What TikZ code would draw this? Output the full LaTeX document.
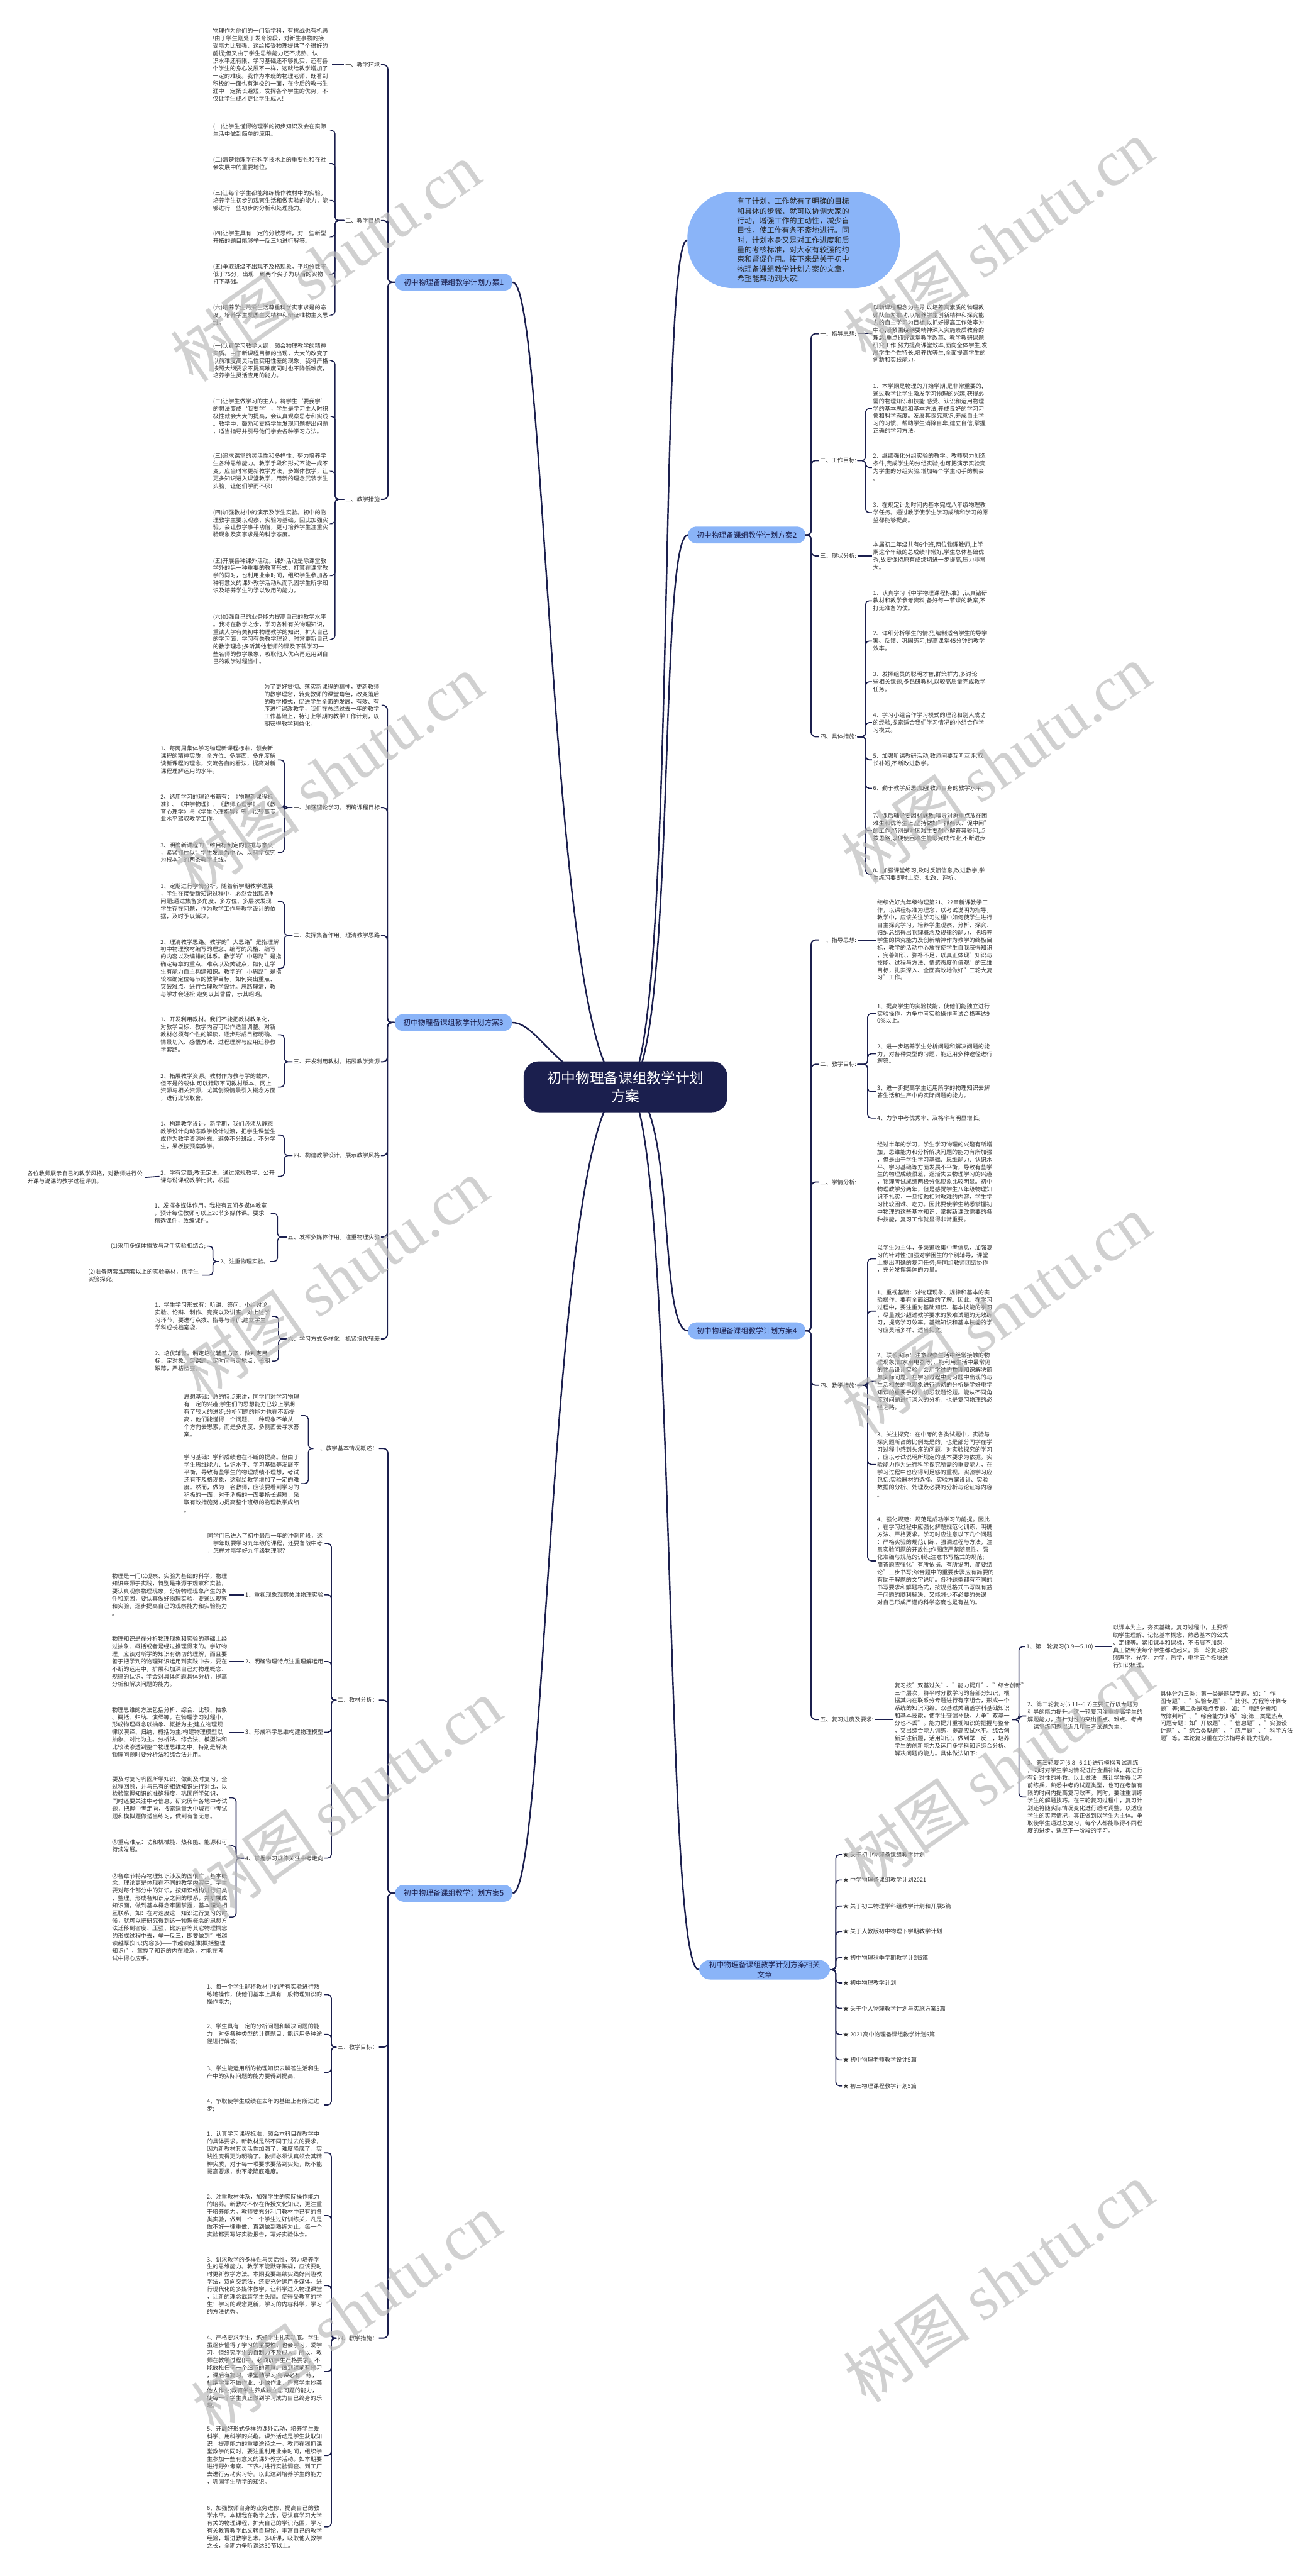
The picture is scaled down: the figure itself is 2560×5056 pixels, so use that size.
\documentclass[tikz,border=0pt]{standalone}
\usepackage{fontspec}
\setmainfont{Noto Sans CJK SC}
\newfontfamily\wmser{Liberation Serif}
\usetikzlibrary{backgrounds}
\definecolor{navy}{HTML}{1B1F4E}
\definecolor{bfill}{HTML}{8AB4F8}
\definecolor{txtc}{HTML}{333333}
\definecolor{wmgray}{HTML}{BDBDBD}
\newcommand\ftxt{\fontsize{11.3pt}{14.75pt}\selectfont}
\newcommand\fbrn{\fontsize{14.5pt}{19pt}\selectfont}
\newcommand\fintr{\fontsize{14.7pt}{18.9pt}\selectfont}
\newcommand\frootn{\fontsize{28pt}{36pt}\selectfont}
\newcommand\fwmk{\fontsize{125pt}{130pt}\selectfont}
\tikzset{
 tb/.style={font=\ftxt, text=txtc, align=left, inner sep=2pt, anchor=north west, text width=#1},
 tb/.default=228pt,
 lbl/.style={font=\ftxt, text=txtc, inner sep=2pt},
 bnode/.style={fill=bfill, text=navy, font=\fbrn, rounded corners=16pt, minimum height=33pt, inner xsep=17pt, inner ysep=3pt},
 rootn/.style={fill=navy, text=white, font=\frootn, align=center, minimum width=400pt, minimum height=100pt, rounded corners=30pt, inner sep=10pt},
 intro/.style={fill=bfill, text=black!85, font=\fintr, align=left, text width=222pt, minimum width=417pt, minimum height=189pt, rounded corners=90pt},
 lk/.style={draw=navy, line width=2pt, rounded corners=7pt},
 mk/.style={draw=navy, line width=2.4pt, rounded corners=9pt},
 rk/.style={draw=navy, line width=3pt},
 wmk/.style={text=wmgray, opacity=0.7, rotate=35, font=\fwmk, inner sep=0pt},
}
\begin{document}
\begin{tikzpicture}[x=1pt,y=-1pt]
\useasboundingbox (0,0) rectangle (2560,5056);
\begin{pgfonlayer}{background}
\fill[white] (0,0) rectangle (2560,5056);
\end{pgfonlayer}

% ---------- root and intro
\node[rootn] (root) at (1228,2133) {初中物理备课组教学计划\\方案};
\node[intro] (intro) at (1558,471) {有了计划，工作就有了明确的目标\\和具体的步骤，就可以协调大家的\\行动，增强工作的主动性，减少盲\\目性，使工作有条不紊地进行。同\\时，计划本身又是对工作进度和质\\量的考核标准，对大家有较强的约\\束和督促作用。接下来是关于初中\\物理备课组教学计划方案的文章，\\希望能帮助到大家!};

% ---------- Branch 1
\node[bnode] (b1) at (891,554) {初中物理备课组教学计划方案1};
\node[lbl, anchor=east] (l1a) at (748,127) {一、教学环境};
\node[lbl, anchor=east] (l1b) at (748,433) {二、教学目标};
\node[lbl, anchor=east] (l1c) at (748,980) {三、教学措施};
\node[tb=232pt, anchor=east] (t1a) at (652,127) {物理作为他们的一门新学科，有挑战也有机遇\\!由于学生刚处于发育阶段，对新生事物的接\\受能力比较强，这给接受物理提供了个很好的\\前提;但又由于学生思维能力还不成熟、认\\识水平还有限、学习基础还不够扎实，还有各\\个学生的身心发展不一样，这就给教学增加了\\一定的难度。我作为本班的物理老师，既看到\\积极的一面也有消极的一面，在今后的教书生\\涯中一定扬长避短，发挥各个学生的优势，不\\仅让学生成才更让学生成人!};
\node[tb=232pt] (t1b1) at (416,241) {(一)让学生懂得物理学的初步知识及会在实际\\生活中做到简单的应用。};
\node[tb=232pt] (t1b2) at (416,306) {(二)清楚物理学在科学技术上的重要性和在社\\会发展中的重要地位。};
\node[tb=232pt] (t1b3) at (416,371) {(三)让每个学生都能熟练操作教材中的实验，\\培养学生初步的观察生活和做实验的能力，能\\够进行一些初步的分析和处理能力。};
\node[tb=232pt] (t1b4) at (416,450) {(四)让学生具有一定的分散思维，对一些新型\\开拓的题目能够举一反三地进行解答。};
\node[tb=232pt] (t1b5) at (416,516) {(五)争取班级不出现不及格现象，平均分数不\\低于75分，出现一到两个尖子为以后的实物\\打下基础。};
\node[tb=232pt] (t1b6) at (416,596) {(六)培养学生热爱生活尊重科学实事求是的态\\度，培养学生爱国主义精神和辩证唯物主义思\\维。};
\node[tb=232pt] (t1c1) at (416,671) {(一)认真学习教学大纲，领会物理教学的精神\\实质。由于新课程目标的出现，大大的改变了\\以前难度高灵活性实用性差的现象，我将严格\\按照大纲要求不提高难度同时也不降低难度，\\培养学生灵活应用的能力。};
\node[tb=232pt] (t1c2) at (416,780) {(二)让学生做学习的主人。将学生‘要我学’\\的想法变成‘我要学’，学生是学习主人时积\\极性就会大大的提高，会认真观察思考和实践\\。教学中，鼓励和支持学生发现问题提出问题\\，适当指导并引导他们学会各种学习方法。};
\node[tb=232pt] (t1c3) at (416,888) {(三)追求课堂的灵活性和多样性，努力培养学\\生各种思维能力。教学手段和形式不能一成不\\变，应当时常更新教学方法，多媒体教学，让\\更多知识进入课堂教学，用新的理念武装学生\\头脑，让他们学而不厌!};
\node[tb=232pt] (t1c4) at (416,998) {(四)加强教材中的演示及学生实验。初中的物\\理教学主要以观察、实验为基础，因此加强实\\验，会让教学事半功倍，更可培养学生注重实\\验现象及实事求是的科学态度。};
\node[tb=232pt] (t1c5) at (416,1093) {(五)开展各种课外活动。课外活动是除课堂教\\学外的另一种重要的教育形式，打算在课堂教\\学的同时，也利用业余时间，组织学生参加各\\种有意义的课外教学活动从而巩固学生所学知\\识及培养学生的学以致用的能力。};
\node[tb=232pt] (t1c6) at (416,1203) {(六)加强自己的业务能力提高自己的教学水平\\。我将在教学之余，学习各种有关物理知识，\\重读大学有关初中物理教学的知识，扩大自己\\的学习面，学习有关教学理论，时常更新自己\\的教学理念;多听其他老师的课及下载学习一\\些名师的教学录象，吸取他人优点再运用到自\\己的教学过程当中。};
\foreach \c in {l1a,l1b,l1c} \draw[mk] (b1.west) -- ++(-14,0) |- (\c.east);
\draw[lk] (l1a.west) -- (t1a.east);
\foreach \i in {1,...,6} \draw[lk] (l1b.west) -- ++(-18,0) |- (t1b\i.east);
\foreach \i in {1,...,6} \draw[lk] (l1c.west) -- ++(-18,0) |- (t1c\i.east);

% ---------- Branch 3
\node[bnode] (b3) at (890,2007) {初中物理备课组教学计划方案3};
\node[tb, anchor=north east] (t3top) at (749,1340) {为了更好贯彻、落实新课程的精神，更新教师\\的教学理念，转变教师的课堂角色，改变落后\\的教学模式，促进学生全面的发展，有效、有\\序进行课改教学，我们在总结过去一年的教学\\工作基础上，特订上学期的教学工作计划，以\\期获得教学利益化。};
\node[lbl, anchor=east] (l3a) at (748,1585) {一、加强理论学习，明确课程目标};
\node[lbl, anchor=east] (l3b) at (748,1836) {二、发挥集备作用，理清教学思路};
\node[lbl, anchor=east] (l3c) at (748,2084) {三、开发利用教材，拓展教学资源};
\node[lbl, anchor=east] (l3d) at (748,2268) {四、构建教学设计，展示教学风格};
\node[lbl, anchor=east] (l3e) at (748,2428) {五、发挥多媒体作用，注重物理实验};
\node[lbl, anchor=east] (l3f) at (748,2628) {六、学习方式多样化，抓紧培优辅差};
\node[tb] (t3a1) at (313,1462) {1、每两周集体学习物理新课程标准，领会新\\课程的精神实质，全方位、多层面、多角度解\\读新课程的理念，交流各自的看法，提高对新\\课程理解运用的水平。};
\node[tb] (t3a2) at (313,1556) {2、选用学习的理论书籍有：《物理新课程标\\准》、《中学物理》、《教师心理学》、《教\\育心理学》与《学生心理指导》等，以较高专\\业水平驾驭教学工作。};
\node[tb] (t3a3) at (313,1651) {3、明确新课程的三维目标制定的根据与意义\\，紧紧抓住以"学生发展为中心、以科学探究\\为根本"的两条教学主线。};
\node[tb] (t3b1) at (313,1732) {1、定期进行学情分析。随着新学期教学进展\\，学生在接受新知识过程中，必然会出现各种\\问题;通过集备多角度、多方位、多层次发现\\学生存在问题，作为教学工作与教学设计的依\\据，及时予以解决。};
\node[tb] (t3b2) at (313,1841) {2、理清教学思路。教学的"大思路"是指理解\\初中物理教材编写的理念、编写的风格、编写\\的内容以及编排的体系。教学的"中思路"是指\\确定每章的重点、难点以及关键点，如何让学\\生有能力自主构建知识。教学的"小思路"是指\\较准确定位每节的教学目标，如何突出重点、\\突破难点，进行合理教学设计。思路理清，教\\与学才会轻松;避免以其昏昏，示其昭昭。};
\node[tb] (t3c1) at (313,1994) {1、开发利用教材。我们不能把教材教条化，\\对教学目标、教学内容可以作适当调整。对新\\教材必须有个性的解读，逐步形成目标明确、\\情景切入、感悟方法、过程理解与应用迁移教\\学套路。};
\node[tb] (t3c2) at (313,2104) {2、拓展教学资源。教材作为教与学的载体，\\但不是的载体;可以猎取不同教材版本、网上\\资源与相关资源，尤其创设情景引入概念方面\\，进行比较取舍。};
\node[tb] (t3d1) at (313,2198) {1、构建教学设计。新学期，我们必须从静态\\教学设计向动态教学设计过渡，把学生课堂生\\成作为教学资源补充，避免不分班级，不分学\\生，呆板按预案教学。};
\node[tb] (t3d2) at (313,2294) {2、学有定章;教无定法。通过常规教学、公开\\课与说课或教学比武，根据};
\node[tb, anchor=east] (t3dx) at (284,2311) {各位教师展示自己的教学风格，对教师进行公\\开课与说课的教学过程评价。};
\node[tb=226pt] (t3e1) at (301,2359) {1、发挥多媒体作用。我校有五间多媒体教室\\，预计每位教师可以上20节多媒体课。要求\\精选课件，改编课件。};
\node[lbl, anchor=east] (l3e2) at (531,2476) {2、注重物理实验。};
\node[lbl, anchor=east] (t3e2a) at (406,2446) {(1)采用多媒体播放与动手实验相结合;};
\node[tb=222pt] (t3e2b) at (171,2488) {(2)准备两套或两套以上的实验器材，供学生\\实验探究。};
\node[tb] (t3f1) at (302,2554) {1、学生学习形式有：听讲、答问、小组讨论;\\实验、论辩、制作、竞赛以及讲座。对上述学\\习环节，要进行点拨、指导与评价;建立学生\\学科成长档案袋。};
\node[tb] (t3f2) at (302,2649) {2、培优辅差。制定培优辅差方案，做到定目\\标、定对象、定课题、定时间与定地点，长期\\跟踪，严格检查。};
\foreach \c in {t3top,l3a,l3b,l3c,l3d,l3e,l3f} \draw[mk] (b3.west) -- ++(-14,0) |- (\c.east);
\foreach \c in {t3a1,t3a2,t3a3} \draw[lk] (l3a.west) -- ++(-16,0) |- (\c.east);
\foreach \c in {t3b1,t3b2} \draw[lk] (l3b.west) -- ++(-16,0) |- (\c.east);
\foreach \c in {t3c1,t3c2} \draw[lk] (l3c.west) -- ++(-16,0) |- (\c.east);
\foreach \c in {t3d1,t3d2} \draw[lk] (l3d.west) -- ++(-16,0) |- (\c.east);
\draw[lk] (t3d2.west) -- (t3dx.east);
\foreach \c in {t3e1,l3e2} \draw[lk] (l3e.west) -- ++(-18,0) |- (\c.east);
\foreach \c in {t3e2a,t3e2b} \draw[lk] (l3e2.west) -- ++(-12,0) |- (\c.east);
\foreach \c in {t3f1,t3f2} \draw[lk] (l3f.west) -- ++(-16,0) |- (\c.east);

% ---------- Branch 5
\node[bnode] (b5) at (891,3716) {初中物理备课组教学计划方案5};
\node[lbl, anchor=east] (l5a) at (744,2843) {一、教学基本情况概述：};
\node[lbl, anchor=east] (l5b) at (744,3337) {二、教材分析：};
\node[lbl, anchor=east] (l5c) at (744,4018) {三、教学目标：};
\node[lbl, anchor=east] (l5d) at (744,4589) {四、教学措施：};
\node[tb] (t5a1) at (359,2734) {思想基础：总的特点来讲，同学们对学习物理\\有一定的兴趣;学生们的思想能力已较上学期\\有了较大的进步;分析问题的能力也在不断提\\高，他们能懂得一个问题、一种现象不单从一\\个方向去思索，而是多角度、多侧面去寻求答\\案。};
\node[tb] (t5a2) at (359,2853) {学习基础：学科成绩也在不断的提高。但由于\\学生思维能力、认识水平、学习基础等发展不\\平衡，导致有些学生的物理成绩不理想，考试\\还有不及格现象，这就给教学增加了一定的难\\度。然而，做为一名教师，应该要看到学习的\\积极的一面，对于消极的一面要扬长避短，采\\取有效措施努力提高整个班级的物理教学成绩\\。};
\node[tb] (t5b0) at (405,3007) {同学们已进入了初中最后一年的冲刺阶段，这\\一学年既要学习九年级的课程，还要备战中考\\，怎样才能学好九年级物理呢？};
\node[lbl, anchor=east] (l5b1) at (637,3130) {1、重视现象观察关注物理实验};
\node[lbl, anchor=east] (l5b2) at (637,3261) {2、明确物理特点注重理解运用};
\node[lbl, anchor=east] (l5b3) at (637,3400) {3、形成科学思维构建物理模型};
\node[lbl, anchor=east] (l5b4) at (637,3647) {4、掌握学习规律关注中考走向};
\node[tb, anchor=east] (t5b1) at (450,3130) {物理是一门以观察、实验为基础的科学，物理\\知识来源于实践，特别是来源于观察和实验，\\要认真观察物理现象，分析物理现象产生的条\\件和原因，要认真做好物理实验，要通过观察\\和实验，逐步提高自己的观察能力和实验能力\\。};
\node[tb, anchor=east] (t5b2) at (450,3261) {物理知识是在分析物理现象和实验的基础上经\\过抽象、概括或者是经过推理得来的。学好物\\理，应该对所学的知识有确切的理解，而且要\\善于把学到的物理知识运用到实践中去，要在\\不断的运用中，扩展和加深自己对物理概念、\\规律的认识，学会对具体问题具体分析，提高\\分析和解决问题的能力。};
\node[tb, anchor=east] (t5b3) at (450,3400) {物理思维的方法包括分析、综合、比较、抽象\\、概括、归纳、演绎等。在物理学习过程中，\\形成物理概念以抽象、概括为主;建立物理规\\律以演绎、归纳、概括为主;构建物理模型以\\抽象、对比为主。分析法、综合法、模型法和\\比较法渗透到整个物理思维之中，特别是解决\\物理问题时要分析法和综合法并用。};
\node[tb] (t5b4a) at (218,3484) {要及时复习巩固所学知识，做到及时复习，全\\过程回顾，并与已有的相近知识进行对比，以\\检验掌握知识的准确程度，巩固所学知识，\\同时还要关注中考信息，研究历年各地中考试\\题，把握中考走向，搜索适量大中城市中考试\\题和模拟题做适当练习，做到有备无患。};
\node[tb] (t5b4b) at (218,3608) {①重点难点：功和机械能、热和能、能源和可\\持续发展。};
\node[tb] (t5b4c) at (218,3674) {②各章节特点物理知识涉及的面很广，基本概\\念、理论更是体现在不同的教学内容中。学生\\要对每个部分中的知识，按知识结构进行归类\\、整理，形成各知识点之间的联系，并扩展成\\知识面，做到基本概念牢固掌握，基本理论相\\互联系，如：在对速度这一知识进行复习的时\\候，就可以把研究得到这一物理概念的思想方\\法迁移到密度、压强、比热容等其它物理概念\\的形成过程中去，举一反三，即要做到"书越\\读越厚(知识内容多)——书越读越薄(概括整理\\知识)"，掌握了知识的内在联系，才能在考\\试中得心应手。};
\node[tb] (t5c1) at (404,3892) {1、每一个学生能将教材中的所有实验进行熟\\练地操作，使他们基本上具有一般物理知识的\\操作能力;};
\node[tb] (t5c2) at (404,3970) {2、学生具有一定的分析问题和解决问题的能\\力，对多各种类型的计算题目，能运用多种途\\径进行解答;};
\node[tb] (t5c3) at (404,4052) {3、学生能运用所的物理知识去解答生活和生\\产中的实际问题的能力要得到提高;};
\node[tb] (t5c4) at (404,4116) {4、争取使学生成绩在去年的基础上有所进进\\步;};
\node[tb] (t5d1) at (404,4181) {1、认真学习课程标准，领会本科目在教学中\\的具体要求。新教材是然不同于过去的要求，\\因为新教材其灵活性加强了，难度降底了，实\\践性变得更为明确了。教师必须认真领会其精\\神实质，对于每一项要求要落到实处，既不能\\拔高要求，也不能降底难度。};
\node[tb] (t5d2) at (404,4304) {2、注重教材体系，加强学生的实际操作能力\\的培养。新教材不仅在传授文化知识，更注重\\于培养能力。教师要充分利用教材中已有的各\\类实验，做到一个一个学生过好训练关，凡是\\做不好一律重做，直到做到熟练为止。每一个\\实验都要写好实验报告，写好实验体会。};
\node[tb] (t5d3) at (404,4427) {3、讲求教学的多样性与灵活性，努力培养学\\生的思维能力。教学不能默守陈规，应该要时\\时更新教学方法。本期我要继续实践好兴趣教\\学法，双向交流法，还要充分运用多媒体，进\\行现代化的多媒体教学，让科学进入物理课堂\\，让新的理念武装学生头脑。使得受教育的学\\生：学习的观念更新，学习的内容科学，学习\\的方法优秀。};
\node[tb] (t5d4) at (404,4581) {4、严格要求学生，练好学生扎实功底。学生\\虽逐步懂得了学习的重要性，也会学习，爱学\\习，但终究学生的自制力不及成人。所以，教\\师在教学过程()中，必须以学生严格要求，不\\能放松任何一个细节的管理。做到课前有预习\\，课后有复习，课堂勤学习;每课必有一练，\\杜绝学生不做作业、少做作业，严禁学生抄袭\\他人作业;教育学生养成独立思问题的能力，\\使每一个学生真正做到学习成为自已终身的乐\\趣。};
\node[tb] (t5d5) at (404,4760) {5、开展好形式多样的课外活动，培养学生爱\\科学、用科学的兴趣。课外活动是学生获取知\\识，提高能力的重要途径之一。教师在狠抓课\\堂教学的同时，要注重利用业余时间，组织学\\生参加一些有意义的课外教学活动。如本期要\\进行野外考察、下农村进行实验调查、到工厂\\去进行劳动实习等。以此达到培养学生的能力\\，巩固学生所学的知识。};
\node[tb] (t5d6) at (404,4915) {6、加强教师自身的业务进修，提高自己的教\\学水平。本期我在教学之余，要认真学习大学\\有关的物理课程，扩大自己的学识范围，学习\\有关教育教学此文转自理论，丰富自己的教学\\经验，增进教学艺术。多听课，吸取他人教学\\之长，全期力争听课达30节以上。};
\foreach \c in {l5a,l5b,l5c,l5d} \draw[mk] (b5.west) -- ++(-14,0) |- (\c.east);
\foreach \c in {t5a1,t5a2} \draw[lk] (l5a.west) -- ++(-10,0) |- (\c.east);
\foreach \c in {t5b0,l5b1,l5b2,l5b3,l5b4} \draw[lk] (l5b.west) -- ++(-10,0) |- (\c.east);
\draw[lk] (l5b1.west) -- (t5b1.east);
\draw[lk] (l5b2.west) -- (t5b2.east);
\draw[lk] (l5b3.west) -- (t5b3.east);
\foreach \c in {t5b4a,t5b4b,t5b4c} \draw[lk] (l5b4.west) -- ++(-16,0) |- (\c.east);
\foreach \i in {1,...,4} \draw[lk] (l5c.west) -- ++(-10,0) |- (t5c\i.east);
\foreach \i in {1,...,6} \draw[lk] (l5d.west) -- ++(-10,0) |- (t5d\i.east);

% ---------- Branch 2
\node[bnode] (b2) at (1466,1050) {初中物理备课组教学计划方案2};
\node[lbl, anchor=west] (l2a) at (1608,655) {一、指导思想:};
\node[lbl, anchor=west] (l2b) at (1608,904) {二、工作目标:};
\node[lbl, anchor=west] (l2c) at (1608,1091) {三、现状分析:};
\node[lbl, anchor=west] (l2d) at (1608,1446) {四、具体措施:};
\node[tb=232pt, anchor=west] (t2a) at (1712,655) {以新课程理念为先导,以培养高素质的物理教\\师队伍为推动,以培养学生创新精神和探究能\\力的自主学习为目标,以抓好提高工作效率为\\中心,紧紧围绕纲要精神深入实施素质教育的\\理念,重点抓好课堂教学改革、教学教研课题\\研究工作,努力提高课堂效率,面向全体学生,发\\展学生个性特长,培养优等生,全面提高学生的\\创新和实践能力。};
\node[tb=232pt] (t2b1) at (1712,750) {1、本学期是物理的开始学期,是非常重要的,\\通过教学让学生激发学习物理的兴趣,获得必\\需的物理知识和技能,感受、认识和运用物理\\学的基本思想和基本方法,养成良好的学习习\\惯和科学态度。发展其探究意识,养成自主学\\习的习惯、帮助学生消除自卑,建立自信,掌握\\正确的学习方法。};
\node[tb=232pt] (t2b2) at (1712,888) {2、继续强化分组实验的教学。教师努力创造\\条件,完成学生的分组实验,也可把演示实验变\\为学生的分组实验,增加每个学生动手的机会\\。};
\node[tb=232pt] (t2b3) at (1712,984) {3、在规定计划时间内基本完成八年级物理教\\学任务。通过教学使学生学习成绩和学习的愿\\望都能够提高。};
\node[tb=232pt, anchor=west] (t2c) at (1712,1091) {本届初二年级共有6个班,两位物理教师,上学\\期这个年级的总成绩非常好,学生总体基础优\\秀,故要保持原有成绩切进一步提高,压力非常\\大。};
\node[tb=232pt] (t2d1) at (1712,1157) {1、认真学习《中学物理课程标准》,认真钻研\\教材和教学参考资料,备好每一节课的教案,不\\打无准备的仗。};
\node[tb=232pt] (t2d2) at (1712,1236) {2、详细分析学生的情况,编制适合学生的导学\\案、反馈、巩固练习,提高课堂45分钟的教学\\效率。};
\node[tb=232pt] (t2d3) at (1712,1316) {3、发挥组员的聪明才智,群策群力,多讨论一\\些相关课题,多钻研教材,以较高质量完成教学\\任务。};
\node[tb=232pt] (t2d4) at (1712,1396) {4、学习小组合作学习模式的理论和别人成功\\的经验,探索适合我们学习情况的小组合作学\\习模式。};
\node[tb=232pt] (t2d5) at (1712,1476) {5、加强听课教研活动,教师间要互听互评,取\\长补短,不断改进教学。};
\node[tb=232pt] (t2d6) at (1712,1539) {6、勤于教学反思,加强教师自身的教学水平。};
\node[tb=232pt] (t2d7) at (1712,1594) {7、课后辅导要因材施教,辅导对象重点放在困\\难生和优等生上,坚持做好"抓两头、促中间"\\的工作,特别是对困难生要耐心解答其疑问,点\\拨思路,以便使困难生能够完成作业,不断进步\\。};
\node[tb=232pt] (t2d8) at (1712,1701) {8、加强课堂练习,及时反馈信息,改进教学,学\\生练习要即时上交、批改、评析。};
\foreach \c in {l2a,l2b,l2c,l2d} \draw[mk] (b2.east) -- ++(11,0) |- (\c.west);
\draw[lk] (l2a.east) -- (t2a.west);
\draw[lk] (l2c.east) -- (t2c.west);
\foreach \i in {1,2,3} \draw[lk] (l2b.east) -- ++(16,0) |- (t2b\i.west);
\foreach \i in {1,...,8} \draw[lk] (l2d.east) -- ++(16,0) |- (t2d\i.west);

% ---------- Branch 4
\node[bnode] (b4) at (1466,2612) {初中物理备课组教学计划方案4};
\node[lbl, anchor=west] (l4a) at (1608,1845) {一、指导思想:};
\node[lbl, anchor=west] (l4b) at (1608,2089) {二、教学目标:};
\node[lbl, anchor=west] (l4c) at (1608,2320) {三、学情分析:};
\node[lbl, anchor=west] (l4d) at (1608,2719) {四、教学措施:};
\node[lbl, anchor=west] (l4e) at (1608,3375) {五、复习进度及要求:};
\node[tb=232pt, anchor=west] (t4a) at (1720,1845) {继续做好九年级物理第21、22章新课教学工\\作，以课程标准为理念，以考试说明为指导，\\教学中，应该关注学习过程中如何使学生进行\\自主探究学习，培养学生观察、分析、探究、\\归纳总结得出物理概念及规律的能力，把培养\\学生的探究能力及创新精神作为教学的终极目\\标，教学的活动中心放在使学生自我获得知识\\，完善知识，弥补不足，以真正体现"知识与\\技能、过程与方法、情感态度价值观"的三维\\目标，扎实深入、全面高效地做好"三轮大复\\习"工作。};
\node[tb=232pt] (t4b1) at (1720,1967) {1、提高学生的实验技能，使他们能独立进行\\实验操作，力争中考实验操作考试合格率达9\\0\%以上。};
\node[tb=232pt] (t4b2) at (1720,2046) {2、进一步培养学生分析问题和解决问题的能\\力，对各种类型的习题，能运用多种途径进行\\解答。};
\node[tb=232pt] (t4b3) at (1720,2128) {3、进一步提高学生运用所学的物理知识去解\\答生活和生产中的实际问题的能力。};
\node[tb=232pt] (t4b4) at (1720,2187) {4、力争中考优秀率、及格率有明显增长。};
\node[tb=232pt, anchor=west] (t4c) at (1720,2320) {经过半年的学习，学生学习物理的兴趣有所增\\加，思维能力和分析解决问题的能力有所加强\\，但是由于学生学习基础、思维能力、认识水\\平、学习基础等方面发展不平衡，导致有些学\\生的物理成绩很差，逐渐失去物理学习的兴趣\\，物理考试成绩两极分化现象比较明显。初中\\物理教学分两年，但是感觉学生八年级物理知\\识不扎实，一旦接触相对教难的内容，学生学\\习比较困难、吃力。因此要使学生熟悉掌握初\\中物理的这些基本知识，掌握新课改需要的各\\种技能，复习工作就显得非常重要。};
\node[tb=232pt] (t4d0) at (1720,2441) {以学生为主体，多渠道收集中考信息，加强复\\习的针对性;加强对学困生的个别辅导，课堂\\上提出明确的复习任务;与同组教师团结协作\\，充分发挥集体的力量。};
\node[tb=232pt] (t4d1) at (1720,2529) {1、重视基础：对物理现象、规律和基本的实\\验操作，要有全面细致的了解。因此，在学习\\过程中，要注重对基础知识、基本技能的学习\\，尽量减少超过教学要求的繁难试题的无效练\\习，提高学习效率。基础知识和基本技能的学\\习应灵活多样、适当拓宽。};
\node[tb=232pt] (t4d2) at (1720,2652) {2、联系实际：注意观察生活中经常接触的物\\理现象(如家用电器等)，能利用生活中最常见\\的物品设计实验，会用学过的物理知识解决简\\单实际问题。在学习过程中对习题中出现的与\\生活相关的电现象进行透彻的分析是学好电学\\知识的重要手段，切忌就题论题。能从不同角\\度对问题进行深入的分析，也是复习物理的必\\经之路。};
\node[tb=232pt] (t4d3) at (1720,2808) {3、关注探究：在中考的各类试题中，实验与\\探究题所占的比例既是的，也是部分同学在学\\习过程中感到头疼的问题。对实验探究的学习\\，应以考试说明所规定的基本要求为依据。实\\验能力作为进行科学探究所需的重要能力，在\\学习过程中也应得到足够的重视。实验学习应\\包括:实验器材的选择、实验方案设计、实验\\数据的分析、处理及必要的分析与论证等内容\\。};
\node[tb=232pt] (t4d4) at (1720,2975) {4、强化规范：规范是成功学习的前提。因此\\，在学习过程中应强化解题规范化训练，明确\\方法、严格要求。学习时应注意以下几个问题\\：严格实验的规范训练，强调过程与方法，注\\意实验问题的开放性;作图应严禁随意性、强\\化准确与规范的训练;注意书写格式的规范;\\简答题应强化"有所依据、有所说明、简要结\\论"三步书写;综合题中的重要步骤应有简要的\\有助于解题的文字说明。各种题型都有不同的\\书写要求和解题格式，按规范格式书写既有益\\于问题的顺利解决，又能减少不必要的失误，\\对自己形成严谨的科学态度也是有益的。};
\node[tb, anchor=west] (t4e) at (1754,3375) {复习按"双基过关"、"能力提升"、"综合创新"\\三个层次，将平时分散学习的各部分知识，根\\据其内在联系分专题进行有序组合，形成一个\\系统的知识网络。双基过关涵盖学科基础知识\\和基本技能，使学生查漏补缺，力争"双基一\\分也不丢"。能力提升重视知识的把握与整合\\，突出综合能力训练，提高应试水平。综合创\\新关注新题，活用知识。做到举一反三，培养\\学生的创新能力及运用多学科知识综合分析、\\解决问题的能力。具体做法如下：};
\node[lbl, anchor=west] (l4e1) at (2013,3232) {1、第一轮复习(3.9-{}-{}-5.10)};
\node[tb=230pt, anchor=west] (t4e1c) at (2183,3232) {以课本为主，夯实基础。复习过程中，主要帮\\助学生理解、记忆基本概念，熟悉基本的公式\\、定律等。紧扣课本和课标，不拓展不加深，\\真正做到使每个学生都动起来。第一轮复习按\\照声学，光学，力学，热学，电学五个板块进\\行知识梳理。};
\node[tb=230pt, anchor=west] (t4e2) at (2015,3368) {2、第二轮复习(5.11-{}-6.7)主要进行以专题为\\引导的能力提升。这一轮复习注重提高学生的\\解题能力，有针对性的突出重点、难点、考点\\，课堂练习题以近几年中考试题为主。};
\node[tb=226pt, anchor=west] (t4e2c) at (2276,3368) {具体分为三类：第一类是题型专题，如："作\\图专题"、"实验专题"、"比例、方程等计算专\\题"等;第二类是难点专题，如："电路分析和\\故障判断"、"综合能力训练"等;第三类是热点\\问题专题：如"开放题"、"信息题"、"实验设\\计题"、"综合类型题"、"应用题"、"科学方法\\题"等。本轮复习重在方法指导和能力提高。};
\node[tb=230pt] (t4e3) at (2015,3453) {3、第三轮复习(6.8-{}-6.21)进行模拟考试训练\\，同时对学生学习情况进行查漏补缺，再进行\\有针对性的补救。以上做法，既让学生得以考\\前练兵，熟悉中考的试题类型，也可在考前有\\限的时间内提高复习效率。同时，要注重训练\\学生的解题技巧。在三轮复习过程中，复习计\\划还将随实际情况变化进行适时调整，以适应\\学生的实际情况，真正做到以学生为主体。争\\取使学生通过总复习，每个人都能取得不同程\\度的进步，适应下一阶段的学习。};
\foreach \c in {l4a,l4b,l4c,l4d,l4e} \draw[mk] (b4.east) -- ++(11,0) |- (\c.west);
\draw[lk] (l4a.east) -- (t4a.west);
\draw[lk] (l4c.east) -- (t4c.west);
\draw[lk] (l4e.east) -- (t4e.west);
\foreach \i in {1,...,4} \draw[lk] (l4b.east) -- ++(20,0) |- (t4b\i.west);
\foreach \i in {0,...,4} \draw[lk] (l4d.east) -- ++(20,0) |- (t4d\i.west);
\foreach \c in {l4e1,t4e2,t4e3} \draw[lk] (t4e.east) -- ++(14,0) |- (\c.west);
\draw[lk] (l4e1.east) -- (t4e1c.west);
\draw[lk] (t4e2.east) -- (t4e2c.west);

% ---------- Related
\node[bnode, align=center, inner xsep=20pt, rounded corners=22pt] (rel) at (1501,3866) {初中物理备课组教学计划方案相关\\文章};
\node[lbl, anchor=west] (r1) at (1653,3640) {★ 关于初中物理备课组教学计划};
\node[lbl, anchor=west] (r2) at (1653,3690) {★ 中学物理备课组教学计划2021};
\node[lbl, anchor=west] (r3) at (1653,3741) {★ 关于初二物理学科组教学计划和开展5篇};
\node[lbl, anchor=west] (r4) at (1653,3791) {★ 关于人教版初中物理下学期教学计划};
\node[lbl, anchor=west] (r5) at (1653,3842) {★ 初中物理秋季学期教学计划5篇};
\node[lbl, anchor=west] (r6) at (1653,3892) {★ 初中物理教学计划};
\node[lbl, anchor=west] (r7) at (1653,3942) {★ 关于个人物理教学计划与实施方案5篇};
\node[lbl, anchor=west] (r8) at (1653,3993) {★ 2021高中物理备课组教学计划5篇};
\node[lbl, anchor=west] (r9) at (1653,4043) {★ 初中物理老师教学设计5篇};
\node[lbl, anchor=west] (r10) at (1653,4094) {★ 初三物理课程教学计划5篇};
\foreach \i in {1,...,10} \draw[lk] (rel.east) -- ++(11,0) |- (r\i.west);

% ---------- root connectors
\begin{pgfonlayer}{background}
\draw[rk] (root.center) .. controls (1080,2133) and (1075,554) .. (b1.east);
\draw[rk] (root.center) .. controls (1100,2133) and (1060,2007) .. (b3.east);
\draw[rk] (root.center) .. controls (1080,2133) and (1075,3716) .. (b5.east);
\draw[rk] (root.center) .. controls (1330,2133) and (1290,471) .. (intro.west);
\draw[rk] (root.center) .. controls (1330,2133) and (1290,1050) .. (b2.west);
\draw[rk] (root.center) .. controls (1330,2133) and (1290,2612) .. (b4.west);
\draw[rk] (root.center) .. controls (1330,2133) and (1300,3866) .. (rel.west);
\end{pgfonlayer}

% ---------- watermarks
\foreach \p in {(640,515),(645,1520),(655,2510),(680,3530),(680,4540),(1960,470),(1955,1500),(1955,2580),(1960,3470),(1960,4480)}
  \node[wmk] at \p {树图 {\wmser shutu.cn}};
\end{tikzpicture}
\end{document}
